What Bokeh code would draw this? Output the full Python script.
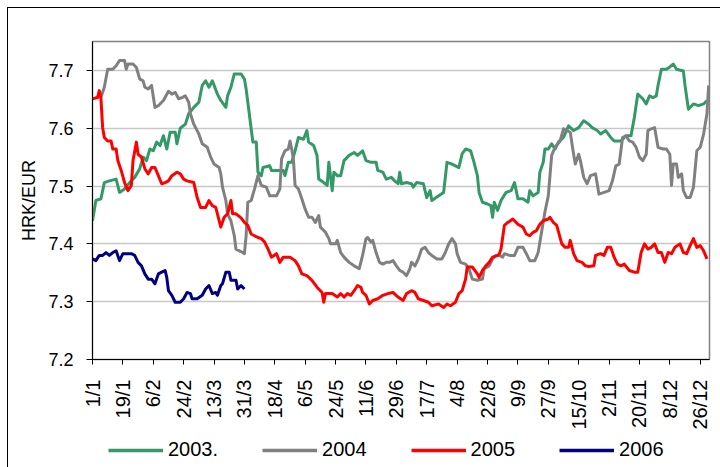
import math
from bokeh.plotting import figure
from bokeh.layouts import column
from bokeh.models import Range1d, FixedTicker, Legend, LegendItem, InlineStyleSheet
from bokeh.embed import file_html
from bokeh.resources import INLINE

# ---- data (day of year, HRK per EUR) ----
years = ["2003.", "2004", "2005", "2006"]
colors = ["#339966", "#808080", "#FF0000", "#000080"]

s2003 = [(0, 7.44), (2, 7.475), (5, 7.478), (7, 7.506), (10, 7.509), (14, 7.512), (16, 7.489), (19, 7.495),
         (22, 7.506), (25, 7.515), (28, 7.53), (30, 7.55), (32, 7.544), (34, 7.564), (36, 7.561), (38, 7.576),
         (40, 7.570), (42, 7.587), (44, 7.564), (46, 7.593), (49, 7.593), (50, 7.573), (52, 7.60), (55, 7.607),
         (57, 7.625), (60, 7.636), (63, 7.645), (65, 7.674), (67, 7.682), (69, 7.671), (71, 7.682), (74, 7.659),
         (76, 7.648), (79, 7.636), (80, 7.656), (82, 7.671), (84, 7.694), (88, 7.694), (90, 7.685), (91, 7.668),
         (93, 7.622), (95, 7.576), (97, 7.576), (98, 7.524), (100, 7.518), (101, 7.532), (105, 7.535), (106, 7.527),
         (113, 7.527), (114, 7.518), (116, 7.541), (118, 7.541), (120, 7.561), (122, 7.584), (125, 7.581),
         (127, 7.596), (128, 7.576), (131, 7.570), (133, 7.553), (134, 7.512), (137, 7.506), (139, 7.501),
         (140, 7.541), (142, 7.492), (143, 7.524), (145, 7.518), (147, 7.518), (149, 7.544), (152, 7.553),
         (155, 7.558), (157, 7.553), (160, 7.561), (162, 7.544), (165, 7.541), (168, 7.541), (169, 7.527),
         (172, 7.524), (174, 7.512), (177, 7.515), (179, 7.509), (181, 7.504), (182, 7.524), (183, 7.504),
         (186, 7.506), (189, 7.504), (190, 7.498), (192, 7.506), (196, 7.504), (198, 7.48), (200, 7.492),
         (201, 7.475), (204, 7.481), (208, 7.489), (210, 7.541), (213, 7.538), (215, 7.535), (217, 7.532),
         (219, 7.556), (221, 7.564), (224, 7.561), (226, 7.541), (228, 7.518), (229, 7.489), (231, 7.472),
         (234, 7.469), (236, 7.466), (237, 7.446), (238, 7.472), (240, 7.458), (242, 7.475), (245, 7.489),
         (248, 7.492), (250, 7.506), (252, 7.478), (255, 7.478), (258, 7.472), (259, 7.492), (261, 7.483),
         (264, 7.489), (265, 7.524), (267, 7.541), (268, 7.564), (270, 7.564), (272, 7.573), (274, 7.564),
         (276, 7.576), (279, 7.584), (282, 7.604), (285, 7.596), (288, 7.601), (291, 7.613), (294, 7.607),
         (296, 7.601), (299, 7.596), (301, 7.59), (304, 7.596), (307, 7.584), (309, 7.578), (313, 7.578),
         (316, 7.587), (319, 7.587), (321, 7.619), (323, 7.659), (326, 7.651), (328, 7.642), (330, 7.656),
         (332, 7.653), (334, 7.656), (335, 7.674), (337, 7.702), (340, 7.702), (342, 7.706), (344, 7.711),
         (346, 7.702), (350, 7.699), (351, 7.674), (353, 7.633), (356, 7.642), (359, 7.639), (362, 7.642),
         (364, 7.648)]

s2004 = [(5, 7.653), (7, 7.671), (9, 7.702), (12, 7.702), (14, 7.708), (16, 7.717), (19, 7.717), (20, 7.702),
         (21, 7.711), (24, 7.711), (26, 7.705), (28, 7.685), (30, 7.682), (31, 7.671), (33, 7.668), (35, 7.674),
         (37, 7.636), (39, 7.639), (42, 7.648), (45, 7.664), (47, 7.659), (49, 7.662), (51, 7.651), (53, 7.653),
         (55, 7.656), (57, 7.645), (58, 7.625), (60, 7.607), (63, 7.590), (65, 7.573), (68, 7.567), (70, 7.55),
         (72, 7.538), (75, 7.532), (76, 7.521), (77, 7.498), (79, 7.475), (80, 7.452), (82, 7.44), (84, 7.414),
         (85, 7.391), (87, 7.388), (89, 7.385), (90, 7.383), (91, 7.414), (92, 7.472), (94, 7.475), (96, 7.495),
         (98, 7.518), (100, 7.501), (103, 7.498), (105, 7.483), (109, 7.483), (111, 7.495), (112, 7.547),
         (114, 7.561), (116, 7.564), (117, 7.578), (118, 7.564), (119, 7.547), (120, 7.501), (122, 7.495),
         (124, 7.478), (126, 7.46), (128, 7.446), (130, 7.446), (132, 7.437), (134, 7.449), (135, 7.429),
         (138, 7.42), (140, 7.409), (141, 7.40), (144, 7.40), (145, 7.406), (147, 7.385), (149, 7.377),
         (152, 7.368), (155, 7.362), (158, 7.357), (160, 7.380), (162, 7.409), (163, 7.411), (165, 7.403),
         (166, 7.406), (168, 7.385), (170, 7.368), (172, 7.365), (174, 7.368), (176, 7.368), (178, 7.371),
         (180, 7.362), (182, 7.354), (184, 7.351), (186, 7.345), (188, 7.357), (189, 7.368), (191, 7.362),
         (193, 7.374), (195, 7.391), (197, 7.394), (199, 7.385), (201, 7.38), (204, 7.374), (207, 7.374),
         (209, 7.385), (211, 7.40), (213, 7.409), (215, 7.40), (216, 7.383), (218, 7.368), (221, 7.365),
         (223, 7.357), (225, 7.339), (228, 7.337), (231, 7.339), (232, 7.357), (235, 7.362), (237, 7.374),
         (239, 7.38), (241, 7.38), (243, 7.377), (244, 7.383), (247, 7.38), (250, 7.38), (252, 7.394),
         (255, 7.394), (257, 7.383), (259, 7.371), (262, 7.371), (264, 7.385), (266, 7.42), (268, 7.455),
         (270, 7.483), (271, 7.518), (272, 7.553), (274, 7.567), (277, 7.578), (279, 7.599), (281, 7.596),
         (283, 7.593), (285, 7.555), (286, 7.538), (288, 7.555), (289, 7.544), (291, 7.515), (293, 7.504),
         (295, 7.518), (298, 7.521), (299, 7.504), (300, 7.486), (303, 7.489), (306, 7.492), (308, 7.509),
         (310, 7.535), (312, 7.538), (314, 7.584), (316, 7.587), (318, 7.578), (320, 7.576), (322, 7.567),
         (324, 7.55), (326, 7.544), (328, 7.555), (329, 7.596), (331, 7.599), (333, 7.601), (335, 7.567),
         (338, 7.564), (340, 7.564), (342, 7.555), (343, 7.501), (344, 7.538), (346, 7.538), (347, 7.515),
         (349, 7.521), (350, 7.492), (352, 7.48), (354, 7.48), (356, 7.498), (358, 7.561), (360, 7.567),
         (362, 7.59), (364, 7.625), (365, 7.674)]

s2005 = [(0, 7.651), (3, 7.653), (4, 7.665), (5, 7.651), (6, 7.601), (7, 7.584), (9, 7.578), (11, 7.578),
         (12, 7.564), (14, 7.564), (15, 7.544), (17, 7.527), (19, 7.506), (21, 7.492), (23, 7.501), (24, 7.544),
         (26, 7.576), (27, 7.555), (29, 7.55), (31, 7.53), (33, 7.521), (35, 7.532), (37, 7.532), (39, 7.518),
         (41, 7.504), (43, 7.506), (45, 7.509), (47, 7.518), (50, 7.524), (52, 7.521), (54, 7.512), (56, 7.509),
         (60, 7.506), (62, 7.48), (64, 7.463), (67, 7.463), (69, 7.475), (71, 7.466), (73, 7.463), (76, 7.429),
         (78, 7.446), (80, 7.452), (82, 7.475), (83, 7.452), (85, 7.452), (88, 7.445), (90, 7.437), (92, 7.432),
         (94, 7.417), (96, 7.414), (98, 7.411), (100, 7.409), (102, 7.403), (104, 7.391), (106, 7.377),
         (109, 7.383), (111, 7.368), (113, 7.377), (117, 7.377), (120, 7.371), (122, 7.362), (124, 7.348),
         (127, 7.345), (130, 7.337), (133, 7.325), (136, 7.316), (137, 7.299), (138, 7.314), (142, 7.314),
         (145, 7.308), (147, 7.314), (149, 7.308), (151, 7.314), (153, 7.311), (155, 7.319), (157, 7.328),
         (159, 7.325), (160, 7.316), (162, 7.311), (164, 7.296), (166, 7.302), (169, 7.305), (172, 7.311),
         (175, 7.314), (178, 7.316), (181, 7.308), (184, 7.302), (186, 7.314), (189, 7.319), (191, 7.316),
         (193, 7.305), (196, 7.302), (199, 7.299), (201, 7.293), (205, 7.296), (208, 7.29), (210, 7.296),
         (212, 7.293), (215, 7.299), (217, 7.314), (219, 7.319), (221, 7.339), (222, 7.36), (225, 7.36),
         (228, 7.348), (229, 7.342), (231, 7.354), (233, 7.362), (235, 7.368), (237, 7.377), (240, 7.38),
         (241, 7.383), (242, 7.391), (244, 7.432), (246, 7.437), (249, 7.443), (252, 7.434), (255, 7.429),
         (257, 7.417), (259, 7.414), (261, 7.42), (263, 7.423), (265, 7.434), (267, 7.44), (270, 7.443),
         (271, 7.446), (273, 7.437), (275, 7.432), (278, 7.40), (280, 7.394), (282, 7.394), (283, 7.406),
         (285, 7.383), (287, 7.371), (290, 7.368), (292, 7.362), (294, 7.361), (297, 7.362), (298, 7.38),
         (301, 7.383), (303, 7.38), (305, 7.394), (307, 7.394), (309, 7.377), (311, 7.365), (313, 7.362),
         (315, 7.365), (318, 7.354), (321, 7.351), (323, 7.351), (325, 7.385), (327, 7.40), (329, 7.391),
         (331, 7.394), (333, 7.40), (335, 7.385), (337, 7.385), (339, 7.368), (341, 7.385), (343, 7.383),
         (345, 7.394), (348, 7.40), (350, 7.385), (352, 7.383), (354, 7.397), (356, 7.409), (358, 7.394),
         (360, 7.397), (362, 7.388), (364, 7.374)]

s2006 = [(0, 7.374), (2, 7.371), (4, 7.38), (6, 7.38), (8, 7.385), (10, 7.38), (12, 7.385), (14, 7.388),
         (16, 7.371), (18, 7.383), (23, 7.383), (25, 7.38), (27, 7.368), (29, 7.362), (31, 7.348), (33, 7.339),
         (35, 7.339), (37, 7.331), (39, 7.348), (41, 7.351), (43, 7.354), (44, 7.342), (45, 7.319), (47, 7.311),
         (49, 7.299), (52, 7.299), (54, 7.305), (56, 7.316), (58, 7.314), (59, 7.305), (62, 7.305), (65, 7.311),
         (67, 7.322), (69, 7.328), (71, 7.314), (73, 7.316), (74, 7.311), (76, 7.328), (77, 7.331), (79, 7.351),
         (81, 7.351), (82, 7.337), (85, 7.337), (86, 7.322), (88, 7.328), (90, 7.322)]

series = [s2003, s2004, s2005, s2006]

x_tick_days = [0, 18, 36, 54, 72, 90, 108, 126, 144, 162, 180, 198, 216, 234, 252, 270, 288, 306, 324, 342, 360]
x_tick_labels = ["1/1", "19/1", "6/2", "24/2", "13/3", "31/3", "18/4", "6/5", "24/5", "11/6", "29/6",
                 "17/7", "4/8", "22/8", "9/9", "27/9", "15/10", "2/11", "20/11", "8/12", "26/12"]
y_ticks = [7.2, 7.3, 7.4, 7.5, 7.6, 7.7]
y_tick_labels = ["7.2", "7.3", "7.4", "7.5", "7.6", "7.7"]

FONT = "Liberation Sans"

# ---------------- main chart ----------------
p = figure(width=720, height=432, x_range=Range1d(0, 365.5), y_range=Range1d(7.2, 7.75),
           output_backend="svg", toolbar_location=None,
           min_border_left=92, min_border_right=11, min_border_top=41, min_border_bottom=73)
p.stylesheets = [InlineStyleSheet(css=(
    ":host::after { content: ''; position: absolute; left: 7px; top: 7px; right: 0px; bottom: 0px;"
    " border-left: 1px solid #000; border-top: 1px solid #000; pointer-events: none; z-index: 100; }"))]
p.background_fill_color = "white"
p.border_fill_color = "white"
p.outline_line_color = "#808080"
p.outline_line_width = 1.5

p.xgrid.visible = False
p.ygrid.ticker = FixedTicker(ticks=y_ticks[1:])
p.ygrid.grid_line_color = "#c8c8c8"
p.ygrid.grid_line_width = 1.5

xa = p.xaxis[0]
xa.ticker = FixedTicker(ticks=x_tick_days)
xa.major_label_overrides = {d: l for d, l in zip(x_tick_days, x_tick_labels)}
xa.major_label_orientation = math.pi / 2
xa.major_tick_out = 5
xa.major_tick_in = 0
xa.minor_tick_out = 0
xa.minor_tick_in = 0
xa.major_label_standoff = 15
xa.major_label_text_font = FONT
xa.major_label_text_font_size = "20px"
xa.major_label_text_color = "black"
xa.axis_line_color = "black"
xa.major_tick_line_color = "black"

ya = p.yaxis[0]
ya.ticker = FixedTicker(ticks=y_ticks)
ya.major_label_overrides = {v: l for v, l in zip(y_ticks, y_tick_labels)}
ya.major_tick_out = 6
ya.major_tick_in = 0
ya.minor_tick_out = 0
ya.minor_tick_in = 0
ya.major_label_standoff = 13
ya.major_label_text_font = FONT
ya.major_label_text_font_size = "18px"
ya.major_label_text_color = "black"
ya.axis_line_color = "black"
ya.major_tick_line_color = "black"
ya.axis_label = "HRK/EUR"
ya.axis_label_text_font = FONT
ya.axis_label_text_font_size = "18px"
ya.axis_label_text_font_style = "normal"
ya.axis_label_text_color = "black"
ya.axis_label_standoff = 6

for col, s in zip(colors, series):
    p.line([d for d, _ in s], [v for _, v in s], line_color=col, line_width=3, line_join="round")

# ---------------- legend strip ----------------
pl = figure(width=720, height=35, x_range=Range1d(1000, 1001), y_range=Range1d(1000, 1001),
            output_backend="svg", toolbar_location=None, x_axis_location=None, y_axis_location=None,
            min_border_left=0, min_border_right=0, min_border_top=0, min_border_bottom=0)
pl.stylesheets = [InlineStyleSheet(css=(
    ":host::after { content: ''; position: absolute; left: 7px; top: 0px; right: 0px; bottom: 0px;"
    " border-left: 1px solid #000; pointer-events: none; z-index: 100; }"))]
pl.grid.visible = False
for g in pl.renderers:
    pass
pl.outline_line_color = None
pl.background_fill_color = "white"
pl.border_fill_color = "white"

items = []
for name, col, s in zip(years, colors, series):
    r = pl.line([d for d, _ in s], [v for _, v in s], line_color=col, line_width=3.5)
    items.append(LegendItem(label=name, renderers=[r]))

legend = Legend(items=items, orientation="horizontal", location=(16, 6),
                glyph_width=55, glyph_height=20, label_standoff=5, spacing=44,
                padding=0, margin=0, border_line_color=None, background_fill_alpha=0,
                label_text_font=FONT, label_text_font_size="20px", label_text_color="black")
pl.add_layout(legend)

layout = column(p, pl, spacing=0)
open("out.html", "w").write(file_html(layout, INLINE))
